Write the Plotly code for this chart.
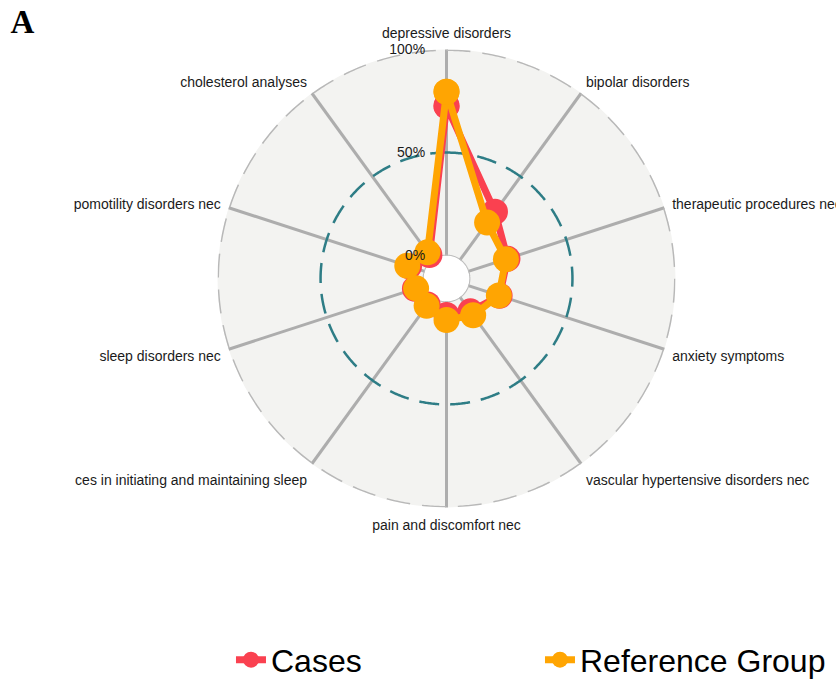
import numpy as np
import plotly.graph_objects as go

categories = [
    "depressive disorders",
    "bipolar disorders",
    "therapeutic procedures nec",
    "anxiety symptoms",
    "vascular hypertensive disorders nec",
    "pain and discomfort nec",
    "ces in initiating and maintaining sleep",
    "sleep disorders nec",
    "pomotility disorders nec",
    "cholesterol analyses",
]
cases = [0.726, 0.289, 0.20, 0.16, 0.086, 0.066, 0.045, 0.05, 0.08, 0.03]
reference = [0.795, 0.224, 0.192, 0.156, 0.109, 0.09, 0.053, 0.044, 0.089, 0.046]
grid_vals = [0, 0.5, 1]
grid_text = ["0%", "50%", "100%"]

n = len(categories)
step = 360 / n
theta = [i * step for i in range(n)]

RED = "#FA4150"
ORANGE = "#FFA502"
FONT = "Liberation Sans"

fig = go.Figure()

circle_theta = np.linspace(0, 360, 721)
grid_styles = {
    0: dict(color="#BDBDBD", width=2, dash="solid"),
    0.5: dict(color="#2E7D86", width=2.5, dash="20px,11px"),
    1: dict(color="#B8B8B8", width=3, dash="24px,12px"),
}
for g in grid_vals:
    fig.add_trace(go.Scatterpolar(
        r=[g] * len(circle_theta), theta=circle_theta, mode="lines",
        line=grid_styles[g], showlegend=False, hoverinfo="skip",
    ))

for name, vals, col in [("Cases", cases, RED), ("Reference Group", reference, ORANGE)]:
    fig.add_trace(go.Scatterpolar(
        r=vals + [vals[0]], theta=theta + [theta[0]],
        mode="lines+markers", name=name,
        line=dict(color=col, width=7),
        marker=dict(color=col, size=26),
        cliponaxis=False,
    ))

fig.update_layout(
    width=836, height=681,
    margin=dict(l=0, r=0, t=0, b=0, autoexpand=False),
    paper_bgcolor="white",
    font=dict(family=FONT, color="#1A1A1A"),
    title=dict(text="<b>A</b>", x=0.0126, xanchor="left", y=0.986, yanchor="top",
               font=dict(family="Liberation Serif", size=33, color="black")),
    polar=dict(
        domain=dict(x=[0.2602, 0.8080], y=[0.2548, 0.9273]),
        bgcolor="#F3F3F1",
        hole=0.1,
        angularaxis=dict(
            rotation=90, direction="clockwise",
            tickmode="array", tickvals=theta, ticktext=categories,
            showline=False, showgrid=True, gridcolor="#ADADAD", gridwidth=2.5,
            ticks="outside", ticklen=5, tickcolor="rgba(0,0,0,0)",
            tickfont=dict(size=14, family=FONT, color="#1A1A1A"),
        ),
        radialaxis=dict(
            range=[0, 1], tickmode="array", tickvals=grid_vals, ticktext=grid_text,
            showgrid=False, showline=False, angle=90, tickangle=90,
            side="counterclockwise", ticks="outside", ticklen=16, tickcolor="rgba(0,0,0,0)",
            tickfont=dict(size=14, family=FONT, color="#1A1A1A"),
        ),
    ),
    showlegend=True,
    legend=dict(
        orientation="h", x=0.2763, xanchor="left", y=0.031, yanchor="middle",
        font=dict(size=32, family=FONT, color="black"),
        entrywidth=264, itemsizing="trace",
    ),
)

fig.write_html(
    "out.html",
    config={"displayModeBar": False},
    post_script="document.body.style.margin='0';document.body.style.padding='0';",
)
